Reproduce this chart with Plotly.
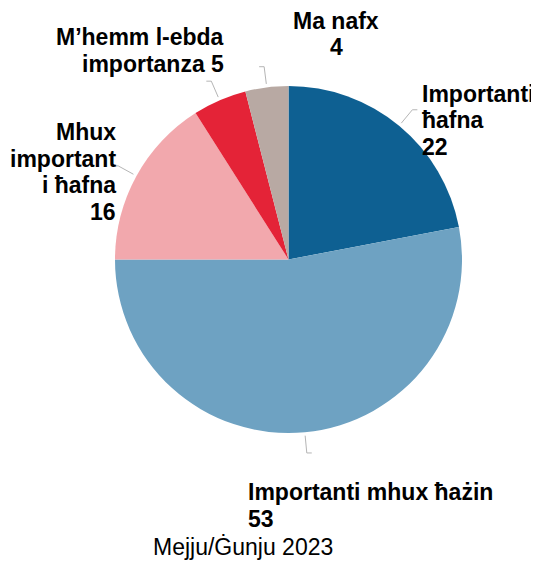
import math
import plotly.graph_objects as go

# data
categories = ["Importanti ħafna", "Importanti mhux ħażin", "Mhux important i ħafna",
              "M’hemm l-ebda importanza", "Ma nafx"]
values = [22, 53, 16, 5, 4]
label_lines = [
    ["Importanti", "ħafna", "22"],
    ["Importanti mhux ħażin", "53"],
    ["Mhux", "important", "i ħafna", "16"],
    ["M’hemm l-ebda", "importanza 5"],
    ["Ma nafx", "4"],
]
colors = ["#0e6092", "#6ea2c2", "#f2a8ad", "#e42337", "#b8a9a3"]
subtitle = "Mejju/Ġunju 2023"

# page body has an 8px margin, so the figure is 8px smaller than the window
OFF = 8
W, H = 539 - OFF, 562 - OFF
M = dict(l=107, r=77, t=78, b=129)
side = W - M["l"] - M["r"]  # square plot area
LINE_H = 26.5


def px_to_paper(px, py):
    # window pixels -> paper coords
    return (px - OFF - M["l"]) / side, (H - M["b"] - (py - OFF)) / side


fig = go.Figure(go.Pie(
    labels=categories, values=values, sort=False, direction="clockwise",
    rotation=0, textinfo="none", hoverinfo="label+value",
    marker=dict(colors=colors, line=dict(color="white", width=0)),
    showlegend=False,
))

# label placement (window pixels): x, first-line centre y, xanchor
label_style = [
    (421, 94, "left"),
    (247, 492, "left"),
    (117, 132, "right"),
    (225, 37, "right"),
    (336, 21, "center"),
]

total = sum(values)
start = 0.0
shapes = []
annotations = []
for v, lines, (lx, ly, xa) in zip(values, label_lines, label_style):
    mid = math.radians((start + v / 2) / total * 360)
    start += v
    s, c = math.sin(mid), math.cos(mid)
    x0, y0 = 0.5 + 0.5 * 1.02 * s, 0.5 + 0.5 * 1.02 * c
    x1, y1 = 0.5 + 0.5 * 1.12 * s, 0.5 + 0.5 * 1.12 * c
    tick = (5 / side) * (1 if s >= 0 else -1)
    shapes.append(dict(type="path", xref="paper", yref="paper",
                       path=f"M {x0} {y0} L {x1} {y1} L {x1 + tick} {y1}",
                       line=dict(color="#b5b5b5", width=1)))
    for i, line in enumerate(lines):
        ax, ay = px_to_paper(lx, ly + i * LINE_H)
        annotations.append(dict(
            x=ax, y=ay, xref="paper", yref="paper", xanchor=xa, yanchor="middle",
            showarrow=False, text=f"<b>{line}</b>", borderpad=0,
            font=dict(family="Liberation Sans, Arial", size=23, color="black"),
        ))

sx, sy = px_to_paper(243, 546)
annotations.append(dict(
    x=sx, y=sy, xref="paper", yref="paper", xanchor="center", yanchor="middle",
    showarrow=False, text=subtitle, borderpad=0,
    font=dict(family="Liberation Sans, Arial", size=23, color="black"),
))

fig.update_layout(
    width=W, height=H, margin=M,
    paper_bgcolor="white", plot_bgcolor="white",
    shapes=shapes, annotations=annotations,
)

fig.write_html("out.html")
